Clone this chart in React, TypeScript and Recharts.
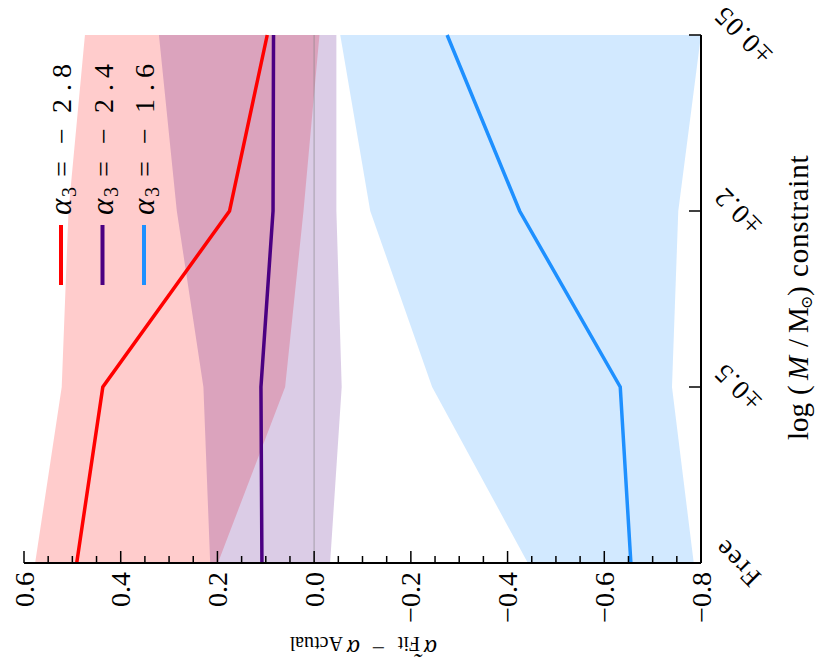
import React from 'react';
import { ComposedChart, Line, Area, XAxis, YAxis, ReferenceLine, Legend } from 'recharts';

// ---------- data ----------
const categories = ['Free', '±0.5', '±0.2', '±0.05'];
const alpha3Labels = ['−2.8', '−2.4', '−1.6'];
const seriesColors = ['#ff0000', '#4b0082', '#1e90ff'];

const redLine = [0.491, 0.437, 0.175, 0.097];
const redLow = [0.199, 0.06, 0.022, -0.011];
const redHigh = [0.577, 0.522, 0.508, 0.474];

const purpleLine = [0.108, 0.11, 0.085, 0.084];
const purpleLow = [-0.033, -0.057, -0.046, -0.046];
const purpleHigh = [0.215, 0.229, 0.284, 0.321];

const blueLine = [-0.655, -0.633, -0.425, -0.275];
const blueLow = [-0.785, -0.74, -0.753, -0.8];
const blueHigh = [-0.442, -0.244, -0.116, -0.054];

const majorTicks = [-0.8, -0.6, -0.4, -0.2, 0.0, 0.2, 0.4, 0.6];
const categoryTicks = [0, 1, 2, 3];

// ---------- derived ----------
const rows = categories.map((c, i) => ({
  pos: i,
  cat: c,
  red: redLine[i],
  redBand: [redLow[i], redHigh[i]],
  purple: purpleLine[i],
  purpleBand: [purpleLow[i], purpleHigh[i]],
  blue: blueLine[i],
  blueBand: [blueLow[i], blueHigh[i]],
}));

const allTicks: number[] = [];
for (let k = 0; k < majorTicks.length; k++) {
  allTicks.push(majorTicks[k]);
  if (k < majorTicks.length - 1) {
    const a = majorTicks[k];
    const b = majorTicks[k + 1];
    for (let j = 1; j < 4; j++) allTicks.push(Math.round((a + ((b - a) * j) / 4) * 1000) / 1000);
  }
}
const isMajor = (v: number) => majorTicks.some((m) => Math.abs(m - v) < 1e-6);
const fmt = (v: number) => (v < -1e-9 ? '−' + Math.abs(v).toFixed(1) : Math.abs(v).toFixed(1));

const FONT = '"Liberation Serif", "DejaVu Serif", serif';
const TICK_FS = 28;
const CAT_FS = 27;
const LABEL_FS = 29;
const CAT_SPACING = 1.5;

let canvasCtx: CanvasRenderingContext2D | null = null;
const measure = (text: string, size: number) => {
  if (typeof document === 'undefined') return text.length * size * 0.5;
  if (!canvasCtx) canvasCtx = document.createElement('canvas').getContext('2d');
  if (!canvasCtx) return text.length * size * 0.5;
  canvasCtx.font = `${size}px "Liberation Serif"`;
  return canvasCtx.measureText(text).width;
};

const MAJOR_LEN = 12;
const MINOR_LEN = 7;

const LeftTick = (props: any) => {
  const { x, y, payload } = props;
  const v = payload.value;
  const major = isMajor(v);
  return (
    <g>
      <line x1={x} y1={y} x2={x + (major ? MAJOR_LEN : MINOR_LEN)} y2={y} stroke="#000" strokeWidth={1.5} />
      {major && (
        <text x={x - 9} y={y} textAnchor="end" dominantBaseline="central" fontSize={TICK_FS} fontFamily={FONT} fill="#000">
          {fmt(v)}
        </text>
      )}
    </g>
  );
};

const RightTick = (props: any) => {
  const { x, y, payload } = props;
  const major = isMajor(payload.value);
  return <line x1={x} y1={y} x2={x - (major ? MAJOR_LEN : MINOR_LEN)} y2={y} stroke="#000" strokeWidth={1.5} />;
};

const BottomTick = (props: any) => {
  const { x, y, payload } = props;
  const label = categories[payload.value];
  const L = measure(label, CAT_FS) + CAT_SPACING * label.length;
  const cy = y + 10 + (L + 20) / (2 * Math.SQRT2);
  return (
    <g>
      <line x1={x} y1={y} x2={x} y2={y - MAJOR_LEN} stroke="#000" strokeWidth={1.5} />
      <text
        x={x}
        y={cy}
        transform={`rotate(-45 ${x} ${cy})`}
        textAnchor="middle"
        dominantBaseline="central"
        fontSize={CAT_FS}
        fontFamily={FONT}
        letterSpacing={CAT_SPACING}
        fill="#000"
      >
        {label}
      </text>
    </g>
  );
};

const TopTick = (props: any) => {
  const { x, y } = props;
  return <line x1={x} y1={y} x2={x} y2={y + MAJOR_LEN} stroke="#000" strokeWidth={1.5} />;
};

// legend box (in the un-rotated chart's frame)
const LEG_LEFT = 370;
const LEG_TOP = 30;
const LEG_W = 250;
const LEG_H = 140;

const LegendContent = () => (
  <svg width={LEG_W} height={LEG_H} style={{ display: 'block', overflow: 'visible' }}>
    {alpha3Labels.map((lab, i) => {
      const cy = 31 + i * 41.5;
      const base = cy + 10;
      const chars = lab.split('');
      const charX = [152, 183, 205, 218];
      return (
        <g key={lab}>
          <line x1={11} y1={cy} x2={71} y2={cy} stroke={seriesColors[i]} strokeWidth={4} />
          <text fontSize={TICK_FS} fontFamily={FONT} fill="#000">
            <tspan x={81} y={base} fontStyle="italic" fontSize={31}>α</tspan>
            <tspan x={99} y={base + 5} fontSize={20}>3</tspan>
            <tspan x={119} y={base}>=</tspan>
            {chars.map((ch, k) => (
              <tspan key={k} x={charX[k]} y={base}>{ch}</tspan>
            ))}
          </text>
        </g>
      );
    })}
  </svg>
);

const AxisLabels = () => (
  <g>
    <g transform="translate(26, 437) rotate(-90)">
      <text fontFamily={FONT} fill="#000">
        <tspan x={0} y={0} fontStyle="italic" fontSize={25}>{'α\u0303'}</tspan>
        <tspan x={17} y={3} fontSize={20}>Fit</tspan>
        <tspan x={52} y={0} fontSize={24}>−</tspan>
        <tspan x={77} y={0} fontStyle="italic" fontSize={25}>α</tspan>
        <tspan x={94} y={3} fontSize={20}>Actual</tspan>
      </text>
    </g>
    <text y={808} fontSize={LABEL_FS} fontFamily={FONT} fill="#000">
      <tspan x={226}>log</tspan>
      <tspan x={271}>(</tspan>
      <tspan x={286} fontStyle="italic">M</tspan>
      <tspan x={319}>/</tspan>
      <tspan x={333}>M</tspan>
      <tspan x={357} dy={4} fontSize={16}>⊙</tspan>
      <tspan x={370} dy={-4}>)</tspan>
      <tspan x={389} letterSpacing={0.8}>constraint</tspan>
    </text>
  </g>
);

export default function App() {
  return (
    <div
      style={{
        position: 'absolute',
        left: 0,
        top: 0,
        width: 666,
        height: 815,
        transformOrigin: '0 0',
        transform: 'translate(0px, 666px) rotate(-90deg)',
        background: '#fff',
      }}
    >
      <ComposedChart width={666} height={815} data={rows} margin={{ top: 24, right: 35, bottom: 0, left: 0 }}>
        <XAxis
          xAxisId={0}
          dataKey="pos"
          type="number"
          domain={[0, 3]}
          ticks={categoryTicks}
          interval={0}
          orientation="bottom"
          height={114}
          tickSize={0}
          tickMargin={0}
          tickLine={false}
          axisLine={{ stroke: '#000', strokeWidth: 2 }}
          tick={<BottomTick />}
        />
        <XAxis
          xAxisId={1}
          dataKey="pos"
          type="number"
          domain={[0, 3]}
          ticks={categoryTicks}
          interval={0}
          orientation="top"
          height={0}
          tickSize={0}
          tickMargin={0}
          tickLine={false}
          axisLine={{ stroke: '#000', strokeWidth: 2 }}
          tick={<TopTick />}
        />
        <YAxis
          yAxisId={0}
          type="number"
          domain={[-0.8, 0.6]}
          ticks={allTicks}
          interval={0}
          allowDataOverflow
          orientation="left"
          width={103}
          tickSize={0}
          tickMargin={0}
          tickLine={false}
          axisLine={{ stroke: '#000', strokeWidth: 2 }}
          tick={<LeftTick />}
        />
        <YAxis
          yAxisId={1}
          type="number"
          domain={[-0.8, 0.6]}
          ticks={allTicks}
          interval={0}
          allowDataOverflow
          orientation="right"
          width={0}
          tickSize={0}
          tickMargin={0}
          tickLine={false}
          axisLine={{ stroke: '#000', strokeWidth: 2 }}
          tick={<RightTick />}
        />
        <Area dataKey="redBand" type="linear" fill={seriesColors[0]} fillOpacity={0.2} stroke="none" isAnimationActive={false} legendType="none" />
        <Area dataKey="purpleBand" type="linear" fill={seriesColors[1]} fillOpacity={0.2} stroke="none" isAnimationActive={false} legendType="none" />
        <Area dataKey="blueBand" type="linear" fill={seriesColors[2]} fillOpacity={0.2} stroke="none" isAnimationActive={false} legendType="none" />
        <ReferenceLine y={0} stroke="#808080" strokeOpacity={0.4} strokeWidth={1.5} />
        <Line dataKey="red" type="linear" stroke={seriesColors[0]} strokeWidth={3.5} dot={false} isAnimationActive={false} />
        <Line dataKey="purple" type="linear" stroke={seriesColors[1]} strokeWidth={3.5} dot={false} isAnimationActive={false} />
        <Line dataKey="blue" type="linear" stroke={seriesColors[2]} strokeWidth={3.5} dot={false} isAnimationActive={false} />
        <Legend
          layout="vertical"
          align="center"
          verticalAlign="middle"
          wrapperStyle={{ position: 'absolute', left: LEG_LEFT, top: LEG_TOP, width: LEG_W, height: LEG_H }}
          content={<LegendContent />}
        />
        <AxisLabels />
      </ComposedChart>
    </div>
  );
}
